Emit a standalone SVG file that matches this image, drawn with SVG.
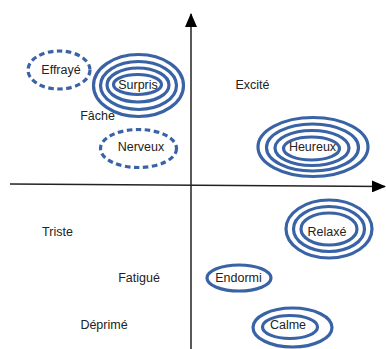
<svg xmlns="http://www.w3.org/2000/svg" width="386" height="349" viewBox="0 0 386 349">
<style>
.ring{fill:none;stroke:#3a63a6;stroke-width:3.2}
.dash{fill:none;stroke:#3a63a6;stroke-width:3.2;stroke-dasharray:5.5 3.5}
.lbl{font-family:"Liberation Sans",Arial,sans-serif;font-size:12.5px;fill:#222;text-anchor:middle;dominant-baseline:central}
.axis{stroke:#222;stroke-width:1.5;fill:none}
</style>
<defs>
<marker id="arr" viewBox="0 0 14 12" refX="13" refY="6" markerWidth="14" markerHeight="12" markerUnits="userSpaceOnUse" orient="auto">
<path d="M0,0 L14,6 L0,12 Z" fill="#000"/>
</marker>
</defs>
<rect width="386" height="349" fill="#fff"/>
<g id="connectors">
<line class="axis" x1="191" y1="349" x2="191" y2="14" marker-end="url(#arr)"/>
<line class="axis" x1="10" y1="184" x2="385" y2="186.5" marker-end="url(#arr)"/>
</g>
<g id="effraye">
<ellipse class="dash" cx="59" cy="70" rx="31" ry="19"/>
<text class="lbl" x="61" y="70">Effrayé</text>
</g>
<g id="surpris">
<ellipse class="ring" cx="138.5" cy="85.5" rx="45" ry="31"/>
<ellipse class="ring" cx="138.5" cy="85.5" rx="38" ry="24"/>
<ellipse class="ring" cx="138" cy="85" rx="31" ry="17"/>
<ellipse class="ring" cx="137.5" cy="84.5" rx="24" ry="10"/>
<text class="lbl" x="138" y="85">Surpris</text>
</g>
<g id="fache">
<text class="lbl" x="97.5" y="116">Fâche</text>
</g>
<g id="nerveux">
<ellipse class="dash" cx="138.5" cy="148.5" rx="38" ry="19"/>
<text class="lbl" x="141" y="147">Nerveux</text>
</g>
<g id="excite">
<text class="lbl" x="252.5" y="85">Excité</text>
</g>
<g id="heureux">
<ellipse class="ring" cx="313" cy="147" rx="55" ry="29.5"/>
<ellipse class="ring" cx="312.5" cy="147.5" rx="46" ry="23.5"/>
<ellipse class="ring" cx="312" cy="148" rx="37" ry="17.5"/>
<ellipse class="ring" cx="311.5" cy="148.5" rx="28" ry="11.5"/>
<text class="lbl" x="312.5" y="147">Heureux</text>
</g>
<g id="triste">
<text class="lbl" x="57.5" y="232">Triste</text>
</g>
<g id="relaxe">
<ellipse class="ring" cx="329" cy="229" rx="43" ry="29"/>
<ellipse class="ring" cx="329" cy="229" rx="35.5" ry="22.5"/>
<ellipse class="ring" cx="329" cy="229" rx="28" ry="16"/>
<text class="lbl" x="327" y="232">Relaxé</text>
</g>
<g id="fatigue">
<text class="lbl" x="139" y="278">Fatigué</text>
</g>
<g id="endormi">
<ellipse class="ring" cx="239" cy="278" rx="32" ry="13"/>
<text class="lbl" x="238.5" y="278">Endormi</text>
</g>
<g id="deprime">
<text class="lbl" x="104" y="325">Déprimé</text>
</g>
<g id="calme">
<ellipse class="ring" cx="292.5" cy="327.5" rx="39.5" ry="19.5"/>
<ellipse class="ring" cx="290" cy="327" rx="27.5" ry="11.5"/>
<text class="lbl" x="288" y="325">Calme</text>
</g>
</svg>
